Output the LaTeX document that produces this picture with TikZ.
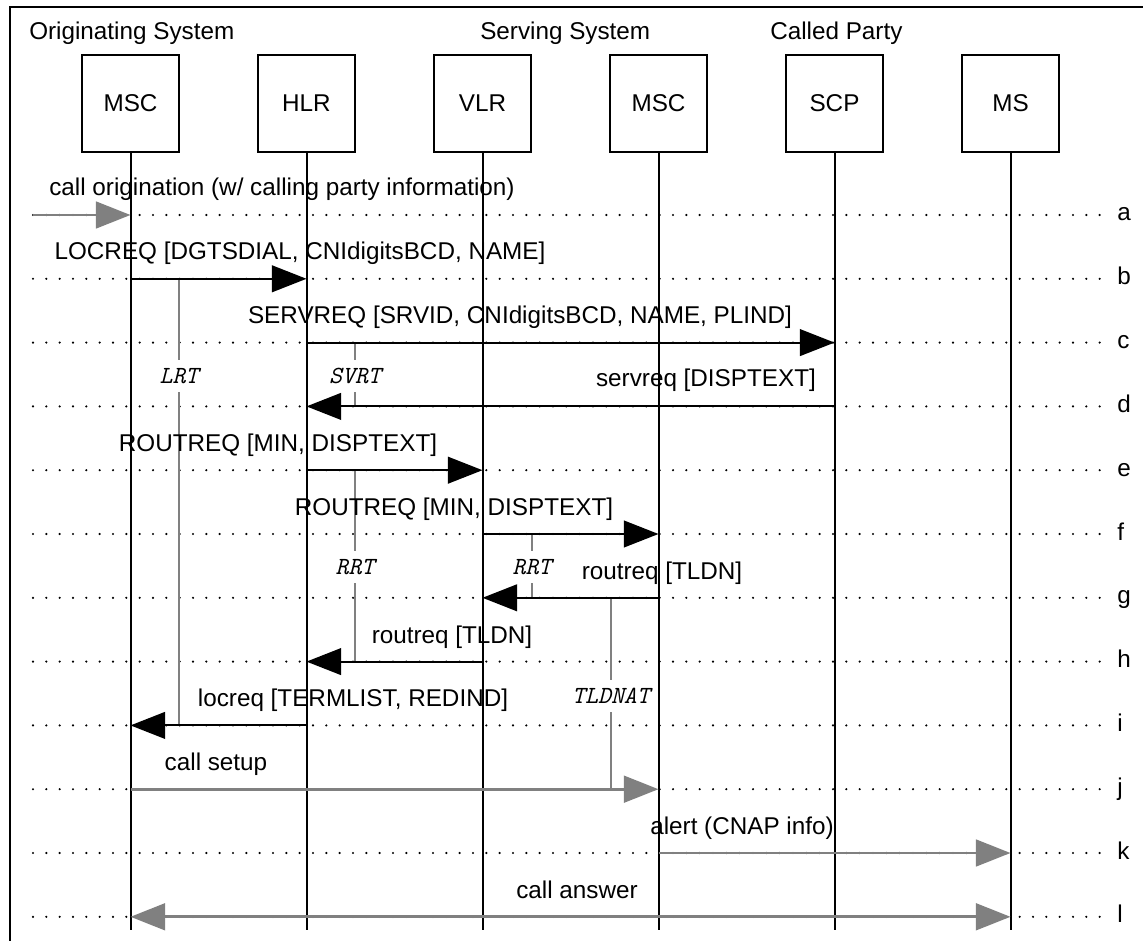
\documentclass[tikz,border=0pt]{standalone}
\usepackage{fontspec}
\setmainfont{Liberation Sans}
\usetikzlibrary{arrows.meta, positioning}
\definecolor{bearergray}{HTML}{808080}
\tikzset{
  >={Triangle[length=26pt, width=20pt]},
  entity/.style={rectangle, draw, line width=1.5pt, minimum width=72.75pt,
                 minimum height=72.75pt, inner sep=0pt, font=\fontsize{18.2}{22}\selectfont},
  header/.style={anchor=base west, inner sep=0pt, font=\fontsize{18.2}{22}\selectfont},
  lifeline/.style={line width=1.5pt},
  rowline/.style={line width=1.8pt, dash pattern=on 0pt off 10pt, line cap=round,
                  shorten >=11pt},
  rowlabel/.style={anchor=base west, inner sep=0pt, font=\fontsize{18.2}{22}\selectfont},
  msg/.style={->, line width=1.6pt},
  bearer/.style={->, line width=2.2pt, draw=bearergray, fill=bearergray},
  msglabel/.style={anchor=base, inner sep=0pt, font=\fontsize{18.2}{22}\selectfont},
  timer/.style={line width=2.2pt, draw=bearergray},
  timerlabel/.style={inner sep=0pt, minimum height=24pt,
                     font=\fontsize{18.5}{20}\selectfont\ttfamily\itshape},
}

\begin{document}
\begin{tikzpicture}[x=0.75pt, y=-0.75pt, node distance=57.75pt]
  \useasboundingbox (0,0) rectangle (1143,941);

  % frame, cut off by the page at right and bottom
  \draw[line width=1.5pt] (10,941) |- (1143,7);

  % system headings
  \node[header] (orig)   at (29,40)  {Originating System};
  \node[header] (serv)   at (480,40) {Serving System};
  \node[header] (called) at (770,40) {Called Party};

  % entities
  \node[entity] (msco) at (130.5,103.5) {MSC};
  \node[entity, right=of msco] (hlr)  {HLR};
  \node[entity, right=of hlr]  (vlr)  {VLR};
  \node[entity, right=of vlr]  (mscs) {MSC};
  \node[entity, right=of mscs] (scp)  {SCP};
  \node[entity, right=of scp]  (ms)   {MS};
  \coordinate (lend) at (0,930);

  % step rows a..l
  \foreach \r [count=\i from 0] in {a,b,c,d,e,f,g,h,i,j,k,l} {
    \coordinate (t\r) at (33,215+63.8*\i);
    \node[rowlabel] (row\r) at (1117,221+63.8*\i) {\r};
    \draw[rowline] (t\r) -- (t\r -| row\r.west);
  }

  % lifelines
  \foreach \e in {msco,hlr,vlr,mscs,scp,ms}
    \draw[lifeline] (\e.south) -- (\e |- lend);

  % timers
  \node[timerlabel] (lrt)    at (179,376) {LRT};
  \node[timerlabel] (svrt)   at (355,376) {SVRT};
  \node[timerlabel] (rrth)   at (355,567) {RRT};
  \node[timerlabel] (rrtv)   at (532,567) {RRT};
  \node[timerlabel] (tldnat) at (611,696) {TLDNAT};
  \draw[timer] (lrt |- tb) -- (lrt.north) (lrt.south) -- (lrt |- ti);
  \draw[timer] (svrt |- tc) -- (svrt.north) (svrt.south) -- (svrt |- td);
  \draw[timer] (rrth |- te) -- (rrth.north) (rrth.south) -- (rrth |- th);
  \draw[timer] (rrtv |- tf) -- (rrtv.north) (rrtv.south) -- (rrtv |- tg);
  \draw[timer] (tldnat |- tg) -- (tldnat.north) (tldnat.south) -- (tldnat |- tj);

  % messages
  \draw[bearer] (ta) -- (msco |- ta);
  \node[msglabel] (la) at (282,196) {call origination (w/ calling party information)};
  \draw[msg] (msco |- tb) -- (hlr |- tb);
  \node[msglabel] (lb) at (300,260) {LOCREQ [DGTSDIAL, CNIdigitsBCD, NAME]};
  \draw[msg] (hlr |- tc) -- (scp |- tc);
  \node[msglabel] (lc) at (520,324) {SERVREQ [SRVID, CNIdigitsBCD, NAME, PLIND]};
  \draw[msg] (scp |- td) -- (hlr |- td);
  \node[msglabel] (ld) at (706,387) {servreq [DISPTEXT]};
  \draw[msg] (hlr |- te) -- (vlr |- te);
  \node[msglabel] (le) at (278,451) {ROUTREQ [MIN, DISPTEXT]};
  \draw[msg] (vlr |- tf) -- (mscs |- tf);
  \node[msglabel] (lf) at (454,515) {ROUTREQ [MIN, DISPTEXT]};
  \draw[msg] (mscs |- tg) -- (vlr |- tg);
  \node[msglabel] (lg) at (662,579) {routreq [TLDN]};
  \draw[msg] (vlr |- th) -- (hlr |- th);
  \node[msglabel] (lh) at (452,643) {routreq [TLDN]};
  \draw[msg] (hlr |- ti) -- (msco |- ti);
  \node[msglabel] (li) at (353,706) {locreq [TERMLIST, REDIND]};
  \draw[bearer] (msco |- tj) -- (mscs |- tj);
  \node[msglabel] (lj) at (216,770) {call setup};
  \draw[bearer] (mscs |- tk) -- (ms |- tk);
  \node[msglabel] (lk) at (742,834) {alert (CNAP info)};
  \draw[bearer, <->] (msco |- tl) -- (ms |- tl);
  \node[msglabel] (ll) at (577,898) {call answer};

\end{tikzpicture}
\end{document}
